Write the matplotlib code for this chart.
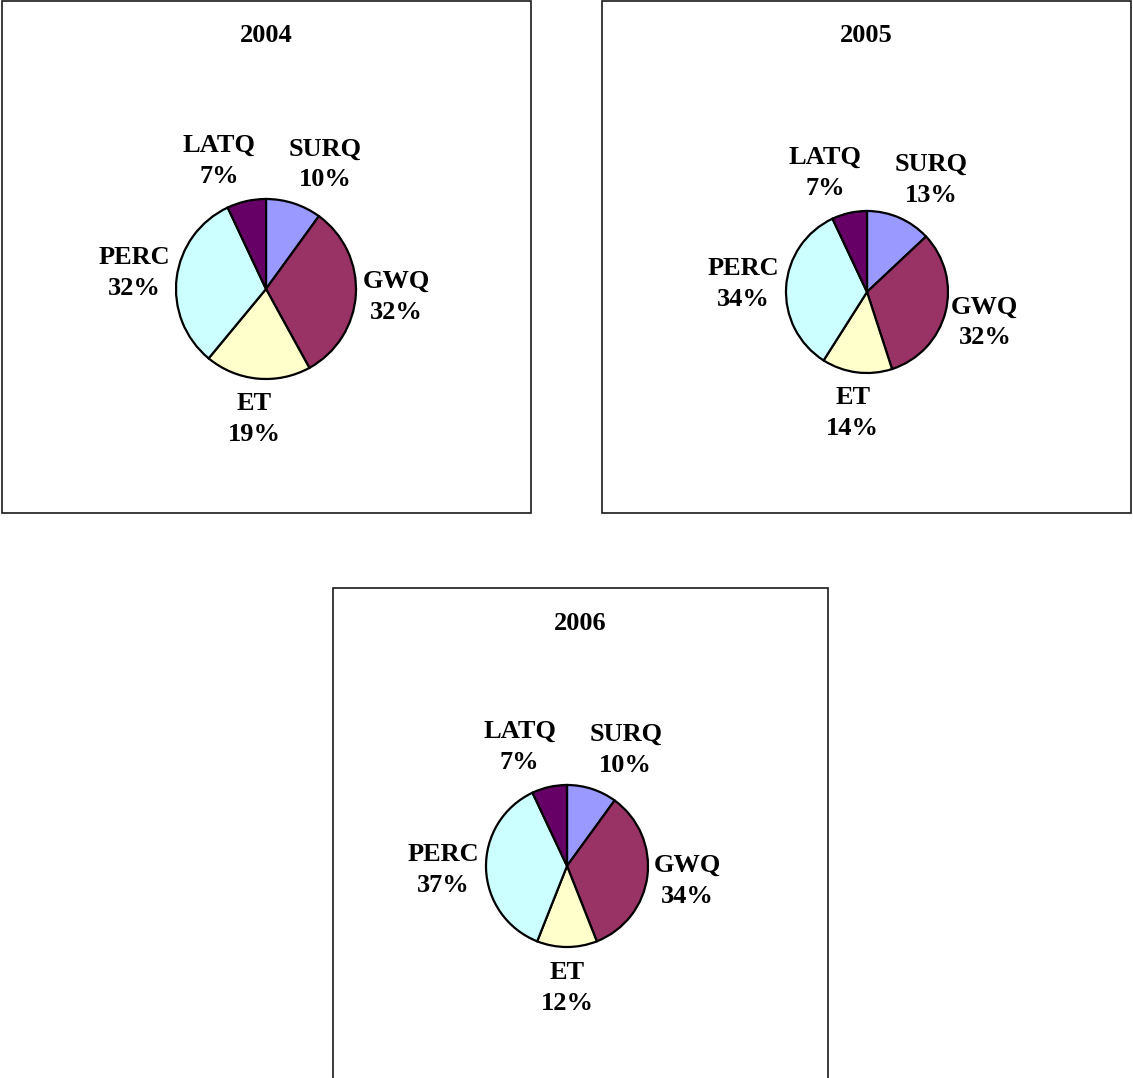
import matplotlib
matplotlib.use("Agg")
import matplotlib.pyplot as plt
from matplotlib.patches import Rectangle
import numpy as np

# Water balance components, share of total (%)
components = ["SURQ", "GWQ", "ET", "PERC", "LATQ"]
years = ["2004", "2005", "2006"]
share_2004 = [10, 32, 19, 32, 7]
share_2005 = [13, 32, 14, 34, 7]
share_2006 = [10, 34, 12, 37, 7]
colors = ["#9999FF", "#993366", "#FFFFCC", "#CCFFFF", "#660066"]

W, H = 1133, 1078
fig = plt.figure(figsize=(W / 100, H / 100), dpi=100)
ax = fig.add_axes([0, 0, 1, 1])
ax.set_xlim(0, W)
ax.set_ylim(0, H)
ax.set_aspect("equal")
ax.axis("off")

FONT = "Liberation Serif"
FSIZE = 19

# panel layout in pixels: box (x0, y0_top, x1, y1_bottom), pie centre/radius, title y
panels = [
    dict(box=(2, 1, 531, 513), centre=(266, 289), radius=90, title_y=35),
    dict(box=(602, 1, 1131, 513), centre=(867, 292), radius=81, title_y=35),
    dict(box=(333, 588, 828, 1100), centre=(567, 866), radius=81, title_y=624),
]

renderer = fig.canvas.get_renderer()


def place_labels(values, cx, cy, r):
    """Position labels just outside the rim, then separate the top pair."""
    total = float(sum(values))
    angles = []
    start = 90.0
    for v in values:
        span = 360.0 * v / total
        angles.append(np.deg2rad(start - span / 2))
        start -= span
    texts = []
    for name, v, th in zip(components, values, angles):
        t = ax.text(0, 0, f"{name}\n{v}%", ha="center", va="center",
                    fontsize=FSIZE, fontweight="bold", family=FONT,
                    linespacing=1.45)
        bb = t.get_window_extent(renderer)
        ww = bb.width / 2 + 2
        hh = 36
        c, s = np.cos(th), np.sin(th)
        gap = 5
        px = (r + gap) * c + ww * c
        py = (r + gap) * s + hh * s
        texts.append([t, px, py, bb.width])
    # push the two top labels (LATQ, SURQ) apart so they don't collide
    surq, latq = texts[0], texts[4]
    need = (surq[3] + latq[3]) / 2 + 33
    have = surq[1] - latq[1]
    if have < need:
        shift = (need - have) / 2
        surq[1] += shift
        latq[1] -= shift
    for t, px, py, _ in texts:
        t.set_position((cx + px, cy + py))


for year, values, p in zip(years, [share_2004, share_2005, share_2006], panels):
    x0, y0, x1, y1 = p["box"]
    ax.add_patch(Rectangle((x0, H - y1), x1 - x0, y1 - y0, fill=False,
                           edgecolor="#1a1a1a", linewidth=1.2, clip_on=False))
    cx, cy = p["centre"][0], H - p["centre"][1]
    ax.pie(values, colors=colors, startangle=90, counterclock=False,
           center=(cx, cy), radius=p["radius"], frame=True,
           wedgeprops=dict(edgecolor="black", linewidth=1.6))
    ax.text((x0 + x1) / 2, H - p["title_y"], year, ha="center", va="center",
            fontsize=FSIZE, fontweight="bold", family=FONT)
    place_labels(values, cx, cy, p["radius"])

ax.set_xlim(0, W)
ax.set_ylim(0, H)
ax.axis("off")
fig.savefig("out.png", dpi=100)
